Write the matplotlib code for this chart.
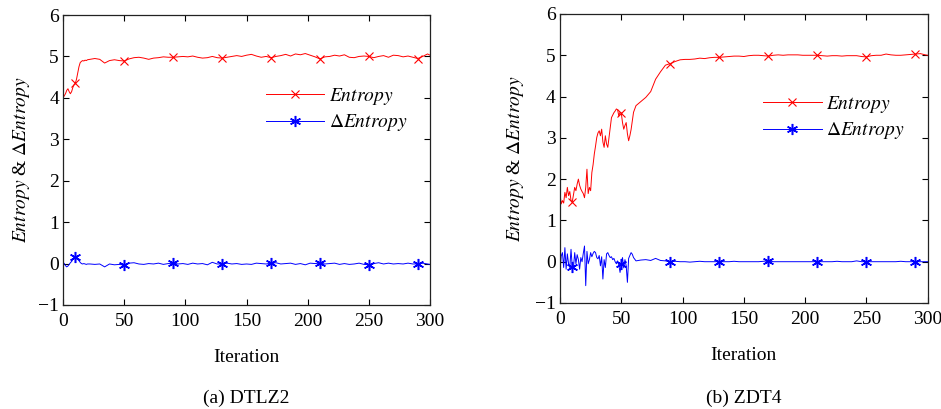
import numpy as np
import matplotlib
matplotlib.use('Agg')
import matplotlib.pyplot as plt

plt.rcParams['font.family'] = ['Liberation Serif', 'DejaVu Serif']
plt.rcParams['mathtext.fontset'] = 'stix'
plt.rcParams['axes.unicode_minus'] = True

# DTLZ2: fine steps for the first 20 iterations, then every 4th
iter_a = list(range(0, 21)) + list(range(22, 299, 4)) + [300]
entropy_a = [4.00, 4.05, 4.10, 4.18, 4.22, 4.15, 4.10, 4.15, 4.25, 4.32,
             4.35, 4.45, 4.60, 4.75, 4.85, 4.88, 4.90, 4.89, 4.91, 4.90, 4.92,
             4.93, 4.95, 4.93, 4.84, 4.90, 4.92, 4.90, 4.89, 4.94, 4.97,
             4.98, 4.96, 4.93, 4.96, 4.97, 4.99, 4.98, 4.98, 4.99, 5.00,
             4.99, 5.01, 4.98, 4.96, 4.97, 5.00, 4.97, 4.96, 4.98, 5.00,
             5.02, 5.00, 5.03, 5.05, 5.01, 4.98, 5.00, 4.97, 5.00, 5.02,
             5.05, 5.01, 5.06, 5.04, 5.07, 5.03, 4.99, 4.94, 4.99, 5.00,
             5.03, 5.01, 5.04, 4.98, 4.97, 5.00, 5.01, 5.00, 4.97, 5.00,
             5.02, 4.98, 5.03, 5.02, 4.99, 5.01, 4.98, 4.95, 5.00, 5.06,
             5.03]
delta_a = [0.03, 0.00, -0.05, -0.08, -0.06, -0.02, 0.02, 0.05, 0.10, 0.14,
           0.15, 0.12, 0.10, 0.07, 0.03, 0.00, -0.01, 0.00, -0.01, -0.02, -0.01,
           -0.01, -0.02, -0.01, -0.08, -0.01, -0.03, -0.02, -0.04, 0.01, 0.02,
           -0.01, -0.02, 0.00, -0.01, 0.01, -0.02, 0.00, 0.01, -0.01, 0.00,
           -0.02, 0.01, -0.01, 0.00, -0.03, 0.03, -0.01, -0.01, 0.01, -0.01,
           0.00, -0.02, -0.01, -0.02, 0.01, 0.00, -0.01, 0.01, 0.02, -0.01,
           0.00, 0.01, -0.02, 0.00, -0.03, 0.01, 0.00, 0.01, -0.01, 0.00,
           0.01, -0.02, 0.00, -0.02, -0.01, 0.01, -0.02, -0.03, 0.00, 0.02,
           -0.01, 0.01, -0.01, 0.00, -0.01, 0.01, -0.01, -0.01, 0.01, -0.01,
           -0.02]

# ZDT4: every iteration up to 60, then every 4th
iter_b = list(range(0, 61)) + list(range(62, 299, 4)) + [300]
entropy_b = [1.65, 1.40, 1.48, 1.42, 1.68, 1.55, 1.80, 1.60, 1.70, 1.48,
             1.45, 1.62, 1.80, 1.72, 1.88, 2.00, 1.85, 1.76, 1.70, 1.65,
             1.55, 1.80, 2.24, 1.65, 1.80, 1.72, 2.16, 2.35, 2.61, 2.80,
             3.01, 3.12, 3.17, 3.05, 3.21, 2.90, 2.77, 3.05, 2.85, 2.77,
             3.01, 3.25, 3.49, 3.55, 3.61, 3.65, 3.70, 3.68, 3.53, 3.62,
             3.60, 3.37, 3.21, 3.30, 3.37, 3.10, 2.93, 3.05, 3.20, 3.41,
             3.62,
             3.78, 3.88, 3.98, 4.12, 4.42, 4.60, 4.76, 4.80, 4.85, 4.89,
             4.90, 4.90, 4.91, 4.93, 4.92, 4.94, 4.95, 4.95, 4.96, 4.97,
             4.98, 4.98, 4.97, 4.99, 5.00, 5.00, 4.99, 4.98, 5.00, 5.01,
             5.00, 5.01, 5.01, 5.01, 5.00, 5.00, 5.00, 5.00, 4.99, 4.98,
             4.99, 4.99, 4.98, 4.99, 4.99, 4.99, 4.97, 4.96, 4.99, 5.00,
             5.00, 5.03, 5.01, 5.00, 5.00, 5.01, 5.02, 5.03, 5.04, 5.01,
             5.00]
delta_b = [-0.22, 0.14, 0.22, -0.14, 0.34, -0.18, 0.19, -0.05, -0.14, 0.30,
           -0.12, -0.14, 0.22, -0.05, 0.17, 0.05, -0.18, 0.10, 0.00, 0.20,
           0.38, -0.58, 0.25, -0.05, 0.05, 0.22, 0.12, 0.20, 0.25, 0.22,
           0.10, 0.07, 0.15, -0.10, 0.12, -0.42, 0.05, -0.14, 0.19, 0.22,
           0.15, 0.10, 0.12, 0.05, 0.08, 0.00, -0.05, 0.02, -0.08, -0.26,
           -0.06, 0.10, -0.15, 0.05, -0.10, -0.50, 0.08, 0.15, 0.22, 0.18,
           0.10,
           0.02, 0.04, 0.05, 0.03, 0.08, 0.03, 0.02, 0.00, 0.01, 0.00,
           0.00, -0.01, 0.00, 0.01, 0.00, 0.00, 0.00, 0.00, 0.00, 0.00,
           0.01, 0.00, 0.00, 0.00, 0.00, 0.00, 0.01, 0.02, 0.00, 0.00,
           0.00, 0.00, 0.00, 0.00, 0.00, 0.00, 0.00, 0.00, 0.00, 0.00,
           0.00, 0.01, 0.00, 0.00, 0.00, 0.02, 0.00, 0.00, 0.00, 0.00,
           0.00, 0.00, 0.00, 0.00, 0.01, 0.00, 0.00, 0.00, 0.00, 0.00,
           0.00]

marker_iters = [10, 50, 90, 130, 170, 210, 250, 290]
captions = ['(a) DTLZ2', '(b) ZDT4']

FS = 14
ASTERISK = (6, 2, 0)  # six-armed asterisk, like matlab's '*'

fig = plt.figure(figsize=(9.41, 4.09), dpi=100)
ax_a = fig.add_axes([0.0670, 0.2543, 0.3900, 0.7090])
ax_b = fig.add_axes([0.5951, 0.2592, 0.3908, 0.7066])

panels = [(ax_a, iter_a, entropy_a, delta_a, 0.674, -0.112),
          (ax_b, iter_b, entropy_b, delta_b, 0.642, -0.122)]
for (ax, it, ent, dent, leg_y, ylab_x), cap in zip(panels, captions):
    marks = [it.index(m) for m in marker_iters]
    ax.plot(it, ent, color='#ff0000', lw=0.7, marker='x', ms=5.5, mew=0.8,
            markevery=marks, label=r'$\it{Entropy}$')
    ax.plot(it, dent, color='#0000ff', lw=0.7, marker=ASTERISK, ms=8, mew=1.1,
            markevery=marks, label=r'$\Delta\it{Entropy}$')
    ax.set_xlim(0, 300)
    ax.set_ylim(-1, 6)
    ax.set_xticks(range(0, 301, 50))
    ax.set_yticks(range(-1, 7))
    ax.tick_params(direction='in', top=True, right=True, labelsize=FS,
                   length=4, width=0.8)
    ax.tick_params(axis='x', pad=6)
    ax.tick_params(axis='y', pad=3)
    for s in ax.spines.values():
        s.set_linewidth(0.9)
        s.set_color('#222222')
    ax.set_ylabel(r'$\it{Entropy}$ & $\Delta\it{Entropy}$', fontsize=FS)
    ax.yaxis.set_label_coords(ylab_x, 0.5)
    ax.yaxis.label.set_va('center')
    ax.set_xlabel('Iteration', fontsize=FS)
    ax.xaxis.set_label_coords(0.5, -0.18)
    ax.xaxis.label.set_va('center')
    ax.legend(loc='center left', bbox_to_anchor=(0.505, leg_y), frameon=False,
              fontsize=FS, handlelength=3.0, handletextpad=0.25,
              labelspacing=0.3)
    box = ax.get_position()
    fig.text(box.x0 + box.width / 2, 0.025, cap, ha='center', va='center',
             fontsize=FS)

fig.savefig('out.png', dpi=100)
